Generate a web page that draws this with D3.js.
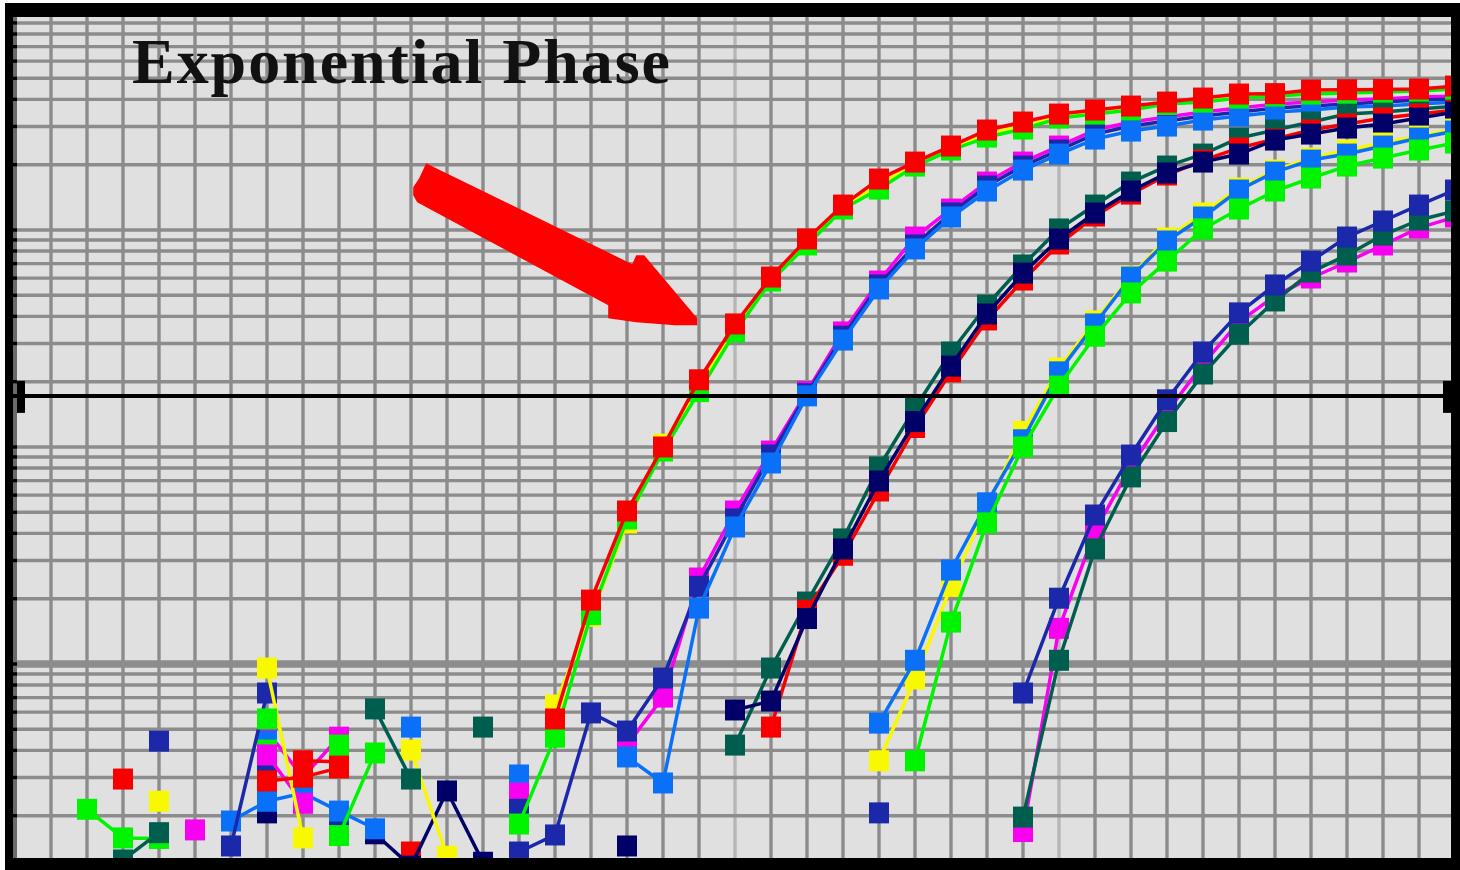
<!DOCTYPE html>
<html>
<head>
<meta charset="utf-8">
<script src="https://cdn.jsdelivr.net/npm/d3@7"></script>
<style>
  body { margin: 0; background: #ffffff; }
  svg { display: block; }
</style>
</head>
<body>
<svg id="chart" width="1460" height="870"></svg>
<script>
// ---------------- DATA (cycle index 0..40, null = not plotted) ----------------
const _ = null;
const cycles = d3.range(0, 41);

// Group 1 (earliest Ct)
const yellow1 = [
  _, _, _, _, 2.33, _, _, 9.58, 1.58, _,
  _, _, _, _, _, 6.47, 16.6, 44.7, 103, 191,
  353, 588, 871, 1276, 1628, 2013, 2386, 2768, 3013, 3350,
  3495, 3647, 3805, 3970, 4142, 4186, 4321, 4367, 4370, 4414,
  4509];
const green1 = [
  _, _, _, _, _, _, _, 5.58, _, 4.23,
  _, _, _, _, 1.83, 4.60, 16.9, 46.6, 95.8, 180,
  339, 582, 853, 1249, 1544, 1971, 2336, 2681, 2919, 3280,
  3422, 3570, 3805, 3886, 4055, 4142, 4231, 4276, 4321, 4367,
  4461];
const red1 = [
  _, _, _, 2.95, _, _, _, 2.89, 3.01, 3.32,
  _, _, _, _, _, 5.58, 19.7, 50.7, 100, 204,
  369, 607, 909, 1303, 1717, 2056, 2437, 2888, 3144, 3422,
  3570, 3725, 3886, 4055, 4231, 4250, 4414, 4430, 4440, 4461,
  4605];

// Group 2
const magenta2 = [
  _, _, _, _, _, _, _, 4.91, 3.01, 4.60,
  _, _, _, _, _, _, _, 4.23, 7.04, 24.9,
  50.7, 95.8, 180, 339, 582, 928, 1249, 1663, 2056, 2437,
  2888, 3144, 3315, 3495, 3647, 3805, 3886, 3970, 4012, 4098,
  4142];
const darkblue2 = [
  _, _, _, _, _, _, _, 3.58, _, 1.72,
  _, _, _, _, 1.36, 1.63, 5.95, 4.91, 8.62, 22.8,
  46.6, 91.8, 176, 324, 558, 853, 1198, 1594, 1971, 2336,
  2768, 3013, 3177, 3350, 3495, 3647, 3725, 3805, 3886, 3970,
  4012];
const lightblue2 = [
  _, _, _, _, _, _, _, 4.41, _, _,
  _, 5.12, _, _, 3.08, _, _, 3.73, 2.83, 18.1,
  42.8, 84.4, 172, 311, 535, 818, 1148, 1512, 1889, 2238,
  2625, 2857, 3013, 3211, 3350, 3495, 3570, 3685, 3725, 3805,
  3886];

// Group 3
const teal3 = [
  _, _, _, _, _, _, _, _, _, _,
  _, _, _, _, _, _, _, _, _, _,
  4.23, 9.58, 19.3, 37.7, 80.9, 151, 274, 451, 690, 1011,
  1303, 1663, 1971, 2238, 2653, 2888, 3144, 3422, 3495, 3608,
  3725];
const red3 = [
  _, _, _, _, _, _, _, _, 3.58, 3.54,
  _, 1.36, _, _, _, _, _, _, _, _,
  _, 5.12, 17.7, 31.7, 62.7, 123, 222, 385, 588, 862,
  1160, 1464, 1792, 2100, 2386, 2625, 2888, 3078, 3280, 3422,
  3570];
const navy3 = [
  _, _, _, _, _, _, _, 2.06, _, _,
  1.65, 1.17, 2.60, 1.22, _, _, _, 1.45, _, _,
  6.14, 6.75, 16.2, 33.9, 69.7, 131, 236, 410, 633, 909,
  1198, 1512, 1830, 2056, 2238, 2597, 2768, 2950, 3078, 3280,
  3495];

// Group 4
const yellow4 = [
  _, _, _, _, _, _, _, _, _, _,
  _, 4.01, 1.30, _, _, _, _, _, _, _,
  _, _, _, _, 3.58, 8.53, 22.8, 53.5, 118, 231,
  381, 613, 918, 1198, 1561, 1889, 2145, 2336, 2516, 2709,
  2919];
const lightblue4 = [
  _, _, _, _, _, _, 1.89, 2.33, 2.54, 2.10,
  1.74, _, _, _, _, _, _, _, _, _,
  _, _, _, _, 5.34, 10.4, 27.1, 55.3, 108, 222,
  369, 607, 890, 1148, 1528, 1849, 2100, 2238, 2437, 2653,
  2857];
const green4 = [
  _, _, 2.14, 1.58, 1.57, _, _, 4.01, _, 1.62,
  3.89, _, _, _, _, _, _, _, _, _,
  _, _, _, _, _, 3.58, 15.6, 44.7, 100, 191,
  324, 513, 719, 1011, 1249, 1512, 1736, 1971, 2145, 2336,
  2516];

// Group 5 (latest Ct)
const magenta5 = [
  _, _, _, _, _, 1.72, _, 3.81, 2.28, _,
  _, _, _, _, 2.54, _, _, _, _, _,
  _, _, _, _, _, _, _, _, 1.69, 14.6,
  41.0, 81.8, 145, 241, 377, 497, 601, 712, 853, 1022,
  1148];
const teal5 = [
  _, _, _, 1.25, 1.67, _, _, _, _, _,
  6.21, 2.95, _, 5.12, _, _, _, _, _, _,
  _, _, _, _, _, _, _, _, 1.97, 10.4,
  33.9, 72.8, 131, 217, 331, 471, 640, 767, 948, 1112,
  1223];
const darkblue5 = [
  _, _, _, _, 4.41, _, 1.45, 7.35, _, _,
  _, _, _, _, 2.14, _, _, _, _, _,
  _, _, _, _, 2.06, _, _, _, 7.35, 20.1,
  48.6, 91.8, 165, 274, 415, 558, 719, 928, 1100, 1303,
  1528];

const thresholdValue = 172;
const titleText = "Exponential Phase";
const arrowTip = { cycle: 18.95, value: 380 };

// ---------------- STYLE ----------------
const COLORS = {
  red: "#f80000", green: "#00f400", yellow: "#f8f800", magenta: "#f800f0",
  lightblue: "#0a70f8", darkblue: "#1c28aa", teal: "#005e4e", navy: "#000068"
};
// drawing order (later on top)
const seriesList = [
  { data: magenta2, color: COLORS.magenta },
  { data: darkblue2, color: COLORS.darkblue },
  { data: lightblue2, color: COLORS.lightblue },
  { data: teal3, color: COLORS.teal },
  { data: red3, color: COLORS.red },
  { data: navy3, color: COLORS.navy },
  { data: yellow4, color: COLORS.yellow },
  { data: lightblue4, color: COLORS.lightblue },
  { data: green4, color: COLORS.green },
  { data: magenta5, color: COLORS.magenta },
  { data: teal5, color: COLORS.teal },
  { data: darkblue5, color: COLORS.darkblue },
  { data: yellow1, color: COLORS.yellow },
  { data: green1, color: COLORS.green },
  { data: red1, color: COLORS.red }
];

const W = 1460, H = 870;
const plot = { left: 13, top: 17, right: 1451, bottom: 858 };

const x = d3.scaleLinear().domain([0, 40]).range([15, 1455]);
const y = d3.scaleLog().domain([1, 10000]).range([881, 13]);

const svg = d3.select("#chart");

// frame
svg.append("rect").attr("x", 5).attr("y", 3).attr("width", W - 5).attr("height", H - 3).attr("fill", "#000");
svg.append("rect").attr("x", plot.left).attr("y", plot.top)
  .attr("width", plot.right - plot.left).attr("height", plot.bottom - plot.top).attr("fill", "#e0e0e0");

svg.append("clipPath").attr("id", "clip").append("rect")
  .attr("x", plot.left).attr("y", plot.top)
  .attr("width", plot.right - plot.left).attr("height", plot.bottom - plot.top);

const g = svg.append("g").attr("clip-path", "url(#clip)");

// grid
const yGrid = [1, 10, 100, 1000].flatMap(d => d3.range(1, 10).map(k => k * d)).concat([10000]);
const lightCycles = [20, 29];
g.append("g").selectAll("line").data(cycles.filter(c => c > 0)).join("line")
  .attr("x1", d => x(d)).attr("x2", d => x(d))
  .attr("y1", plot.top).attr("y2", plot.bottom)
  .attr("stroke", d => lightCycles.includes(d) ? "#b6b6b6" : "#8c8c8c")
  .attr("stroke-width", 3.4);
g.append("g").selectAll("line").data(yGrid).join("line")
  .attr("x1", plot.left).attr("x2", plot.right)
  .attr("y1", d => y(d)).attr("y2", d => y(d))
  .attr("stroke", "#8c8c8c")
  .attr("stroke-width", d => d === 10 ? 7.5 : 3.4);
g.append("line").attr("x1", x(0)).attr("x2", x(0)).attr("y1", plot.top).attr("y2", plot.bottom)
  .attr("stroke", "#6a6a6a").attr("stroke-width", 4);
g.append("g").selectAll("rect").data(yGrid).join("rect")
  .attr("x", plot.left).attr("width", 4)
  .attr("y", d => y(d) - 1.7).attr("height", 3.4).attr("fill", "#000");

// title
svg.append("text")
  .attr("x", 132).attr("y", 83)
  .attr("font-family", "'Liberation Serif', 'Times New Roman', serif")
  .attr("font-weight", "bold").attr("font-size", 64)
  .attr("textLength", 538).attr("lengthAdjust", "spacing")
  .attr("fill", "#111")
  .text(titleText);

// series
const line = d3.line()
  .defined(d => d.v != null)
  .x(d => x(d.c)).y(d => y(d.v));
const MW = 20, MH = 21;
const sg = g.append("g");
seriesList.forEach(s => {
  const pts = s.data.map((v, i) => ({ c: cycles[i], v }));
  const gs = sg.append("g");
  gs.append("path").datum(pts)
    .attr("d", line).attr("fill", "none")
    .attr("stroke", s.color).attr("stroke-width", 3.5)
    .attr("stroke-linejoin", "round");
  gs.selectAll("rect").data(pts.filter(p => p.v != null)).join("rect")
    .attr("x", d => x(d.c) - MW / 2).attr("y", d => y(d.v) - MH / 2)
    .attr("width", MW).attr("height", MH)
    .attr("fill", s.color);
});

// arrow annotation
const arrowShape = [[-271,-158],[-261,-153],[-65,-57],[-61,-66],[-53,-66],[0,-3],[0,4],
  [-22,4],[-61,1],[-89,-3],[-89,-16],[-280,-119],[-284,-126],[-284,-134],[-278,-143]];
const tx = x(arrowTip.cycle), ty = y(arrowTip.value);
g.append("polygon")
  .attr("points", arrowShape.map(p => [tx + p[0], ty + p[1]].join(",")).join(" "))
  .attr("fill", "#ff0000");

// threshold
const ty2 = y(thresholdValue);
svg.append("line").attr("x1", plot.left).attr("x2", plot.right)
  .attr("y1", ty2).attr("y2", ty2).attr("stroke", "#000").attr("stroke-width", 4);
svg.append("rect").attr("x", plot.left + 4).attr("y", ty2 - 15).attr("width", 8).attr("height", 32).attr("fill", "#000");
svg.append("rect").attr("x", plot.right - 8).attr("y", ty2 - 15).attr("width", 8).attr("height", 32).attr("fill", "#000");
</script>
</body>
</html>
